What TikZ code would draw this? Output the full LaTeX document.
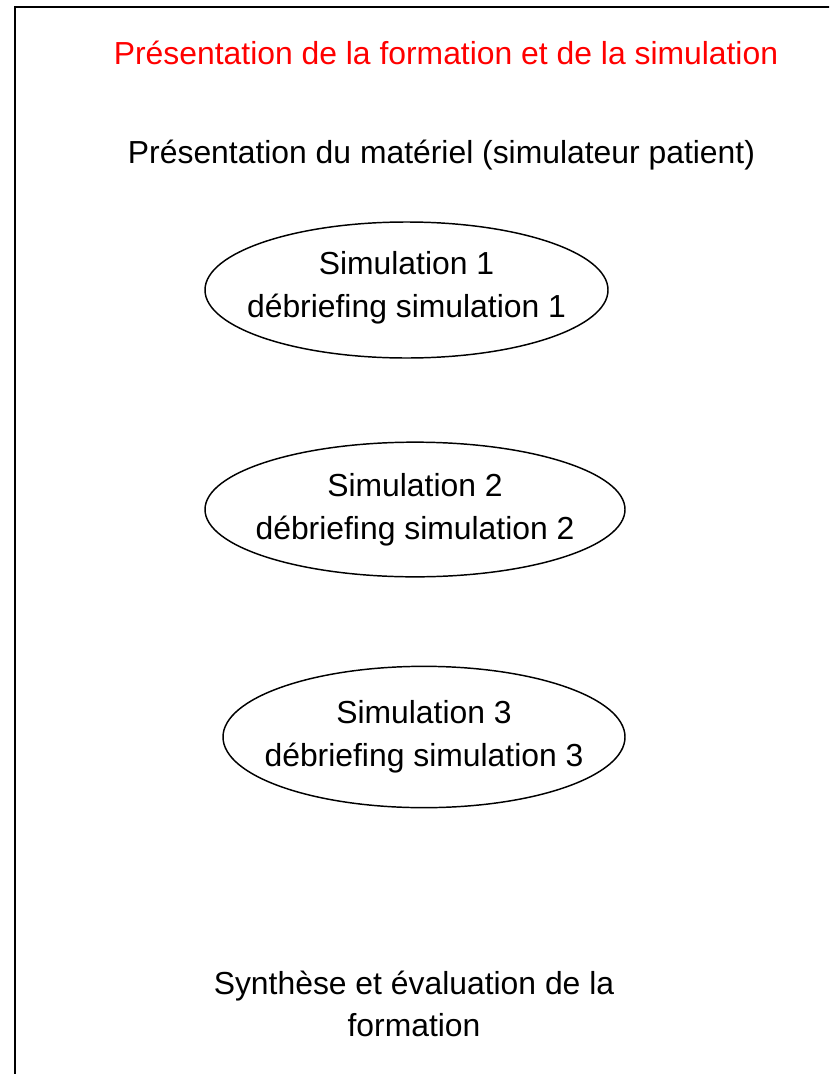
\documentclass[tikz,border=0pt]{standalone}
\usepackage{fontspec}
\setmainfont{Liberation Sans}
\usetikzlibrary{shapes.geometric}
\definecolor{titlered}{RGB}{255,0,0}
\begin{document}
\begin{tikzpicture}[x=0.75pt,y=-0.75pt,
  txt/.style={font=\fontsize{23.9}{32}\selectfont, align=center, inner sep=0pt},
  oval/.style={ellipse, draw=black, line width=1.1pt, inner sep=0pt}]
\useasboundingbox (0,0) rectangle (829,1074);
\clip (0,0) rectangle (829,1074);
\draw[line width=1.5pt] (14.5,7.5) rectangle (860,1100);
\node[txt, text=titlered] (title) at (446,53) {Présentation de la formation et de la simulation};
\node[txt] (materiel) at (441.5,155) {Présentation du matériel (simulateur patient)};
\node[oval, minimum width=302.25pt, minimum height=102pt,
  label={[txt, yshift=1.5pt]center:{Simulation 1\\débriefing simulation 1}}] (sim1) at (406.5,290) {};
\node[oval, minimum width=315pt, minimum height=101pt,
  label={[txt]center:{Simulation 2\\débriefing simulation 2}}] (sim2) at (415,509.5) {};
\node[oval, minimum width=301.5pt, minimum height=106pt,
  label={[txt]center:{Simulation 3\\débriefing simulation 3}}] (sim3) at (424,737) {};
\node[txt] (synthese) at (414,1004) {Synthèse et évaluation de la\\formation};
\end{tikzpicture}
\end{document}
